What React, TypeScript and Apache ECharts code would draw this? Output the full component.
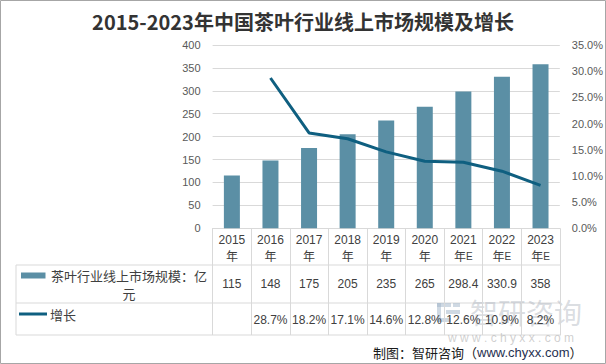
import React, { useEffect, useRef } from "react";
import * as echarts from "echarts";

const years = ["2015", "2016", "2017", "2018", "2019", "2020", "2021", "2022", "2023"];
const yearSuffix = ["", "", "", "", "", "", "E", "E", "E"];
const marketSize = [115, 148, 175, 205, 235, 265, 298.4, 330.9, 358];
const growth: (number | null)[] = [null, 28.7, 18.2, 17.1, 14.6, 12.8, 12.6, 10.9, 8.2];
const barName = "茶叶行业线上市场规模：亿元";
const lineName = "增长";
const titleText = "2015-2023年中国茶叶行业线上市场规模及增长";

const GL = 212.6;
const GR = 45;
const GT = 45;
const GB = 135.7;
const AXIS_Y = 364 - GB;
const ROW1 = 265;
const ROW2 = 303;
const ROW3 = 335;
const TABLE_L = 16;
const TABLE_R = 606 - GR;
const FONT = "'Liberation Sans','Noto Sans CJK SC',sans-serif";
const CJK = "'Noto Sans CJK SC',sans-serif";
const GRID_C = "#d9d9d9";
const TEXT_C = "#404040";

export default function App() {
  const ref = useRef<HTMLDivElement>(null);
  useEffect(() => {
    if (!ref.current) return;
    const chart = echarts.init(ref.current, null, { renderer: "svg" });
    const hLine = (y: number) => ({
      type: "line",
      shape: { x1: TABLE_L, y1: y, x2: TABLE_R, y2: y },
      style: { stroke: GRID_C, lineWidth: 1 },
      silent: true,
    });
    chart.setOption({
      animation: false,
      backgroundColor: "#ffffff",
      title: {
        text: titleText,
        left: "center",
        top: 6,
        textStyle: { fontFamily: CJK, fontSize: 20, fontWeight: "bold", color: "#333333" },
      },
      grid: { left: GL, right: GR, top: GT, bottom: GB, containLabel: false },
      xAxis: [
        {
          type: "category",
          data: years.map((y, i) => `{a|${y}}\n{a|年}{e|${yearSuffix[i]}}`),
          axisLine: { show: true, lineStyle: { color: GRID_C } },
          axisTick: { show: true, length: ROW3 - AXIS_Y, lineStyle: { color: GRID_C } },
          axisLabel: {
            interval: 0,
            margin: 3,
            lineHeight: 17,
            rich: {
              a: { fontFamily: FONT, fontSize: 12, color: TEXT_C, lineHeight: 17 },
              e: { fontFamily: FONT, fontSize: 10, color: TEXT_C, lineHeight: 17 },
            },
          },
        },
        {
          type: "category",
          position: "bottom",
          offset: 44,
          data: marketSize.map((v) => String(v)),
          axisLine: { show: false },
          axisTick: { show: false },
          axisLabel: { interval: 0, margin: 6, fontFamily: FONT, fontSize: 12, color: TEXT_C },
        },
        {
          type: "category",
          position: "bottom",
          offset: 80,
          data: growth.map((v) => (v == null ? " " : v.toFixed(1) + "%")),
          axisLine: { show: false },
          axisTick: { show: false },
          axisLabel: { interval: 0, margin: 6, fontFamily: FONT, fontSize: 12, color: TEXT_C },
        },
      ],
      yAxis: [
        {
          type: "value",
          min: 0,
          max: 400,
          interval: 50,
          axisLine: { show: false },
          axisTick: { show: false },
          axisLabel: { margin: 12, fontFamily: FONT, fontSize: 11, color: "#595959" },
          splitLine: { lineStyle: { color: GRID_C } },
        },
        {
          type: "value",
          min: 0,
          max: 35,
          interval: 5,
          axisLine: { show: false },
          axisTick: { show: false },
          axisLabel: {
            margin: 12,
            fontFamily: FONT,
            fontSize: 11,
            color: "#595959",
            formatter: (v: number) => v.toFixed(1) + "%",
          },
          splitLine: { show: false },
        },
      ],
      series: [
        {
          name: barName,
          type: "bar",
          data: marketSize,
          barWidth: 16,
          itemStyle: { color: "#5b8fa5" },
        },
        {
          name: lineName,
          type: "line",
          yAxisIndex: 1,
          data: growth,
          showSymbol: false,
          symbol: "none",
          lineStyle: { color: "#0f5f80", width: 3 },
          itemStyle: { color: "#0f5f80" },
        },
      ],
      graphic: [
        {
          type: "rect",
          shape: { x: 0.5, y: 0.5, width: 605, height: 363 },
          style: { fill: "none", stroke: "#a6a6a6", lineWidth: 1 },
          silent: true,
        },
        hLine(ROW1),
        hLine(ROW2),
        hLine(ROW3),
        {
          type: "line",
          shape: { x1: TABLE_L, y1: ROW1, x2: TABLE_L, y2: ROW3 },
          style: { stroke: GRID_C, lineWidth: 1 },
          silent: true,
        },
        {
          type: "rect",
          shape: { x: 21, y: 272.5, width: 24.5, height: 6 },
          style: { fill: "#5b8fa5" },
          silent: true,
        },
        {
          type: "text",
          x: 129,
          y: 284,
          style: {
            text: barName.slice(0, 12) + "\n" + barName.slice(12),
            fontFamily: CJK,
            fontSize: 13,
            lineHeight: 18,
            fill: TEXT_C,
            align: "center",
            verticalAlign: "middle",
          },
          silent: true,
        },
        {
          type: "line",
          shape: { x1: 19, y1: 314, x2: 47, y2: 314 },
          style: { stroke: "#0f5f80", lineWidth: 3 },
          silent: true,
        },
        {
          type: "text",
          x: 50,
          y: 314,
          style: { text: lineName, fontFamily: CJK, fontSize: 13, fill: TEXT_C, verticalAlign: "middle" },
          silent: true,
        },
        // watermark
        {
          type: "group",
          silent: true,
          children: [
            { type: "rect", shape: { x: 437, y: 303, width: 4, height: 19 }, style: { fill: "#9fb3c8", opacity: 0.5 } },
            { type: "rect", shape: { x: 437, y: 303, width: 14, height: 4 }, style: { fill: "#9fb3c8", opacity: 0.5 } },
            { type: "rect", shape: { x: 437, y: 318, width: 14, height: 4 }, style: { fill: "#9fb3c8", opacity: 0.5 } },
            { type: "rect", shape: { x: 446, y: 310, width: 14, height: 4 }, style: { fill: "#9fb3c8", opacity: 0.5 } },
            { type: "rect", shape: { x: 453, y: 303, width: 7, height: 4 }, style: { fill: "#9fb3c8", opacity: 0.5 } },
            {
              type: "text",
              x: 470,
              y: 312,
              style: {
                text: "智研咨询",
                fontFamily: CJK,
                fontSize: 28,
                fill: "#a0a8b4",
                opacity: 0.4,
                verticalAlign: "middle",
              },
            },
            {
              type: "text",
              x: 511,
              y: 338,
              style: {
                text: "w w w . c h y x x . c o m",
                fontFamily: FONT,
                fontSize: 12,
                fill: "#b0b0b0",
                opacity: 0.6,
                align: "center",
                verticalAlign: "middle",
              },
            },
          ],
        },
        {
          type: "text",
          x: 373,
          y: 352,
          style: {
            text: "{a|制图：智研咨询（}{b|www.chyxx.com}{a|）}",
            verticalAlign: "middle",
            rich: {
              a: { fontFamily: CJK, fontSize: 13, fill: "#1a1a1a" },
              b: { fontFamily: FONT, fontSize: 13, fill: "#1f3050" },
            },
          },
          silent: true,
        },
      ],
    });
    return () => chart.dispose();
  }, []);
  return (
    <div
      ref={ref}
      style={{ position: "fixed", left: 0, top: 0, width: 606, height: 364 }}
    />
  );
}
